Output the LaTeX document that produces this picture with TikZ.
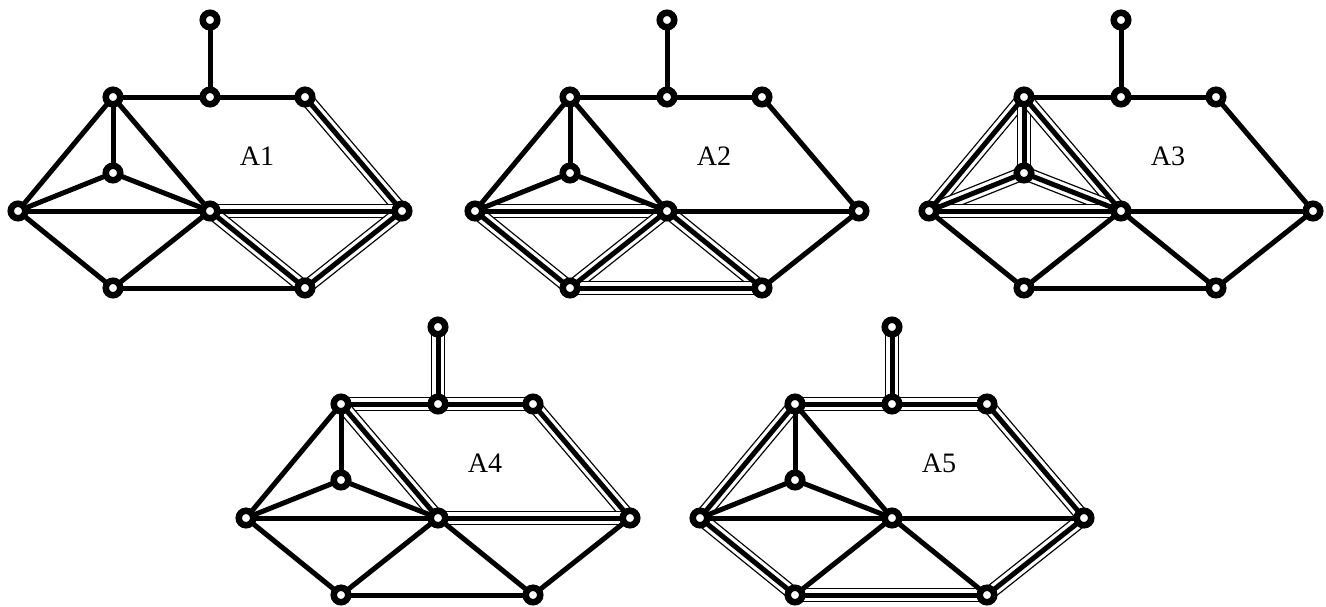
\documentclass[tikz,border=0pt]{standalone}
\usepackage{fontspec}
\setmainfont{Liberation Serif}
\pgfdeclarelayer{edges}
\pgfsetlayers{edges,main}

\tikzset{
  vtx/.style={circle, draw, fill=white, line width=0.13cm, inner sep=0pt, minimum size=0.29cm},
  link/.style={line width=0.1cm},
  hl/.style={line width=0.026cm, double=white, double distance=0.23cm},
  lbl/.style={font=\fontsize{16}{18}\selectfont}
}

% #1 shift, #2 prefix, #3 label, #4 marked edges
\newcommand{\hexgraph}[4]{%
  \begin{scope}[shift={#1}]
    % Coordinates
    \foreach \n/\x/\y in {t/210/20, a/113/97, b/210/97, c/305/97, d/113/173,
                          l/18/211, m/210/211, r/402/211, e/113/288, f/305/288}
      \node[vtx] (#2\n) at (\x,\y) {};
    \node[lbl] (#2lbl) at (257,156) {#3};
    % Drawing
    \begin{pgfonlayer}{edges}
      \foreach \u/\v in {#4}
        \draw[hl] (#2\u.center) -- (#2\v.center);
      \foreach \u/\v in {t/b, a/b, b/c, a/l, a/d, a/m, d/l, d/m, l/m, m/r,
                         c/r, l/e, e/m, m/f, e/f, f/r}
        \draw[link] (#2\u.center) -- (#2\v.center);
    \end{pgfonlayer}
  \end{scope}}

\begin{document}
\begin{tikzpicture}[x=0.02cm, y=-0.02cm]
  \useasboundingbox (0,0) rectangle (1326,606);

  \hexgraph{(0,0)}{p}{A1}{c/r, m/r, m/f, f/r}
  \hexgraph{(457,0)}{q}{A2}{l/m, l/e, e/m, m/f, e/f}
  \hexgraph{(911,0)}{s}{A3}{a/l, a/d, a/m, d/l, d/m, l/m}
  \hexgraph{(228,307)}{u}{A4}{t/b, a/b, b/c, a/m, c/r, m/r}
  \hexgraph{(682,307)}{w}{A5}{t/b, a/b, b/c, a/l, c/r, l/e, e/f, f/r}
\end{tikzpicture}
\end{document}
